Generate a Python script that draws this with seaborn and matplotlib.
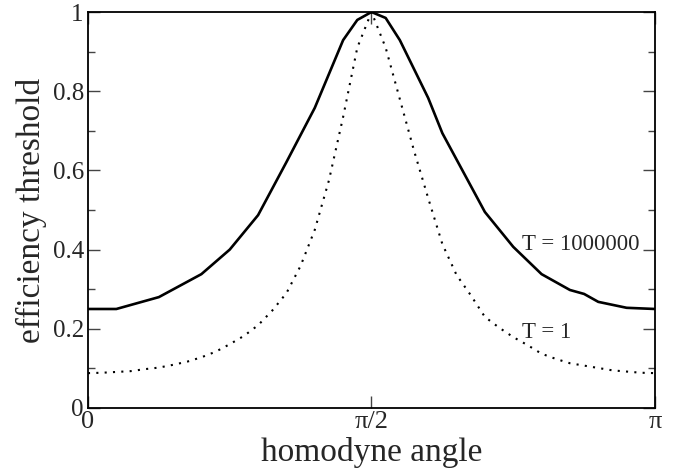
import numpy as np
import pandas as pd
import seaborn as sns
import matplotlib.pyplot as plt
from matplotlib.ticker import MultipleLocator

# angle grid in steps of pi/40
steps_high = [0, 2, 5, 8, 10, 12, 14, 16, 18, 19, 20, 21, 22, 24, 25, 28, 30, 32, 34, 35, 36, 38, 40]
eff_high = [0.250, 0.250, 0.280, 0.338, 0.400, 0.487, 0.621, 0.758, 0.929, 0.980, 1.000,
            0.985, 0.929, 0.783, 0.694, 0.495, 0.407, 0.338, 0.298, 0.288, 0.268, 0.253, 0.250]

steps_low = list(range(41))
eff_low = [0.088, 0.089, 0.091, 0.093, 0.098, 0.102, 0.109, 0.117, 0.128, 0.142,
           0.161, 0.182, 0.209, 0.246, 0.290, 0.359, 0.450, 0.575, 0.735, 0.910,
           1.000, 0.910, 0.780, 0.650, 0.530, 0.414, 0.336, 0.285, 0.230, 0.203,
           0.179, 0.159, 0.137, 0.124, 0.113, 0.107, 0.101, 0.095, 0.092, 0.089, 0.088]

x_ticks = [0, np.pi / 2, np.pi]
x_ticklabels = ["0", "π/2", "π"]
y_ticks = [0, 0.2, 0.4, 0.6, 0.8, 1.0]
y_ticklabels = ["0", "0.2", "0.4", "0.6", "0.8", "1"]

df_high = pd.DataFrame({"angle": np.array(steps_high) * np.pi / 40, "eff": eff_high})
df_low = pd.DataFrame({"angle": np.array(steps_low) * np.pi / 40, "eff": eff_low})

sns.set_theme(style="ticks")
plt.rcParams["font.family"] = ["Liberation Serif", "DejaVu Serif"]

fig = plt.figure(figsize=(6.95, 4.71), dpi=100)
ax = fig.add_axes([0.1266, 0.1338, 0.8158, 0.8407])

sns.lineplot(data=df_high, x="angle", y="eff", color="black", linewidth=1.9, ax=ax)
sns.lineplot(data=df_low, x="angle", y="eff", color="black", linewidth=1.5,
             linestyle=(0, (1, 3)), ax=ax)

ax.set_xlim(0, np.pi)
ax.set_ylim(0, 1)
ax.set_xticks(x_ticks)
ax.set_xticklabels(x_ticklabels)
ax.set_yticks(y_ticks)
ax.set_yticklabels(y_ticklabels)
ax.yaxis.set_minor_locator(MultipleLocator(0.1))

ax.tick_params(axis="both", which="major", direction="in", length=8.5, width=1,
               color="#444444", labelsize=18, top=True, right=True, pad=3)
ax.tick_params(axis="y", which="minor", direction="in", length=5, width=1,
               color="#444444", left=True, right=True)
ax.tick_params(axis="x", pad=2)
ax.set_xticklabels(x_ticklabels, fontsize=19)
for s in ax.spines.values():
    s.set_linewidth(1.3)
    s.set_color("black")

ax.set_xlabel("homodyne angle", fontsize=24, labelpad=3)
ax.set_ylabel("efficiency threshold", fontsize=24, labelpad=4)

ax.text(2.405, 0.40, "T = 1000000", fontsize=16.5, ha="left", va="baseline")
ax.text(2.405, 0.177, "T = 1", fontsize=16.5, ha="left", va="baseline")

fig.savefig("out.png", dpi=100)
